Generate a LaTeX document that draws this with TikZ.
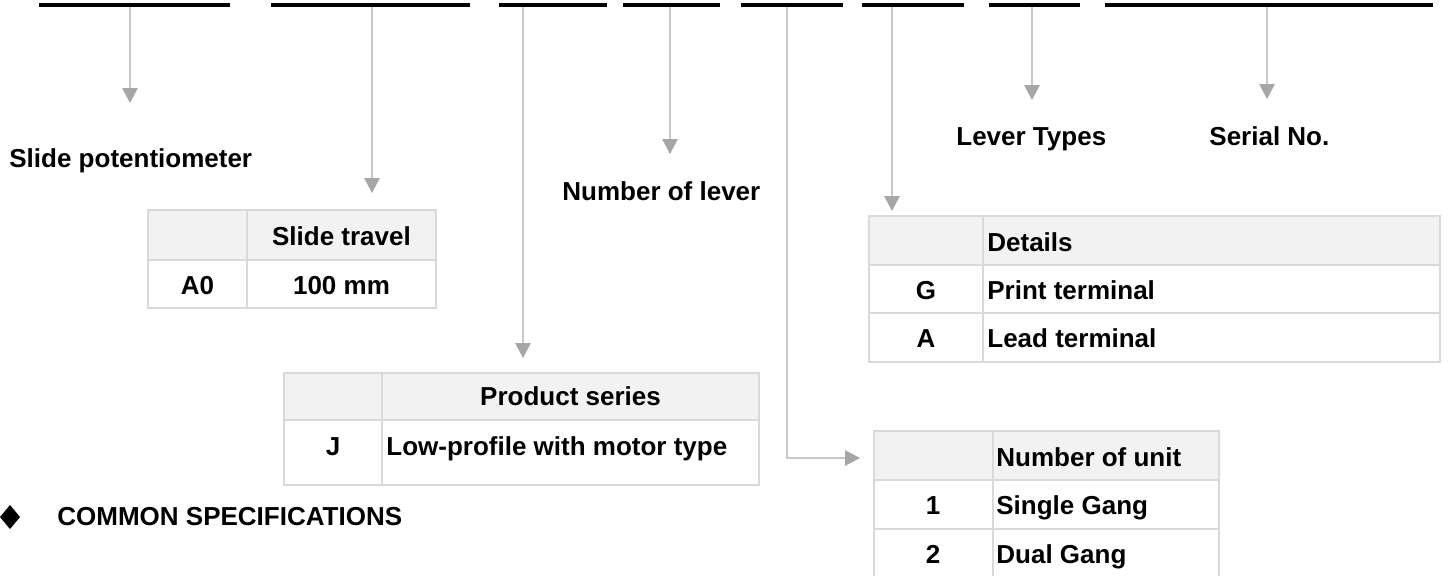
\documentclass[tikz,border=0pt]{standalone}
\usepackage{fontspec}
\setmainfont{Liberation Sans}
\usetikzlibrary{arrows.meta}
\definecolor{linegray}{HTML}{C8C8C8}
\definecolor{tipgray}{HTML}{A6A6A6}
\definecolor{gridgray}{HTML}{D9D9D9}
\definecolor{headgray}{HTML}{F2F2F2}
\tikzset{
    bar/.style={line width=2.2pt},
    arr/.style={draw=linegray,line width=0.75pt,-{Triangle[width=7.6pt,length=7.4pt,color=tipgray]}},
    lbl/.style={font=\bfseries\fontsize{13}{15}\selectfont,inner sep=0pt},
    head/.style={fill=headgray,draw=gridgray,line width=0.6pt},
    cell/.style={draw=gridgray,line width=0.6pt}
}
\begin{document}
\begin{tikzpicture}[x=0.5pt,y=-0.5pt]
    \useasboundingbox (0,0) rectangle (1448,575);
    % code segments
    \foreach \a/\b [count=\i] in {39/230,271/470,499/607,623/720,741/843,862/964,989/1080,1105/1433}
        \draw[bar] (\a,5) coordinate (b\i) -- (\b,5);
    \foreach \x [count=\i] in {130,372,523,670,787,892,1032,1267}
        \coordinate (s\i) at (\x,7);
    % labels
    \node[lbl,anchor=base west] (pot) at (9,167) {Slide potentiometer};
    \node[lbl,anchor=base west] (lever) at (562,200) {Number of lever};
    \node[lbl,anchor=base west] (ltype) at (956,145) {Lever Types};
    \node[lbl,anchor=base west] (serial) at (1209,145) {Serial No.};
    % slide travel table
    \draw[head] (148,210) rectangle (247,260) (247,210) rectangle (436,260);
    \draw[cell] (148,260) rectangle (247,308) (247,260) rectangle (436,308);
    \node[lbl,anchor=base] (travel) at (341.5,245) {Slide travel};
    \node[lbl,anchor=base] (a0) at (197.5,294) {A0};
    \node[lbl,anchor=base] (mm) at (341.5,294) {100 mm};
    % product series table
    \draw[head] (284,373) rectangle (382,420) (382,373) rectangle (759,420);
    \draw[cell] (284,420) rectangle (382,485) (382,420) rectangle (759,485);
    \node[lbl,anchor=base] (series) at (570.5,405) {Product series};
    \node[lbl,anchor=base] (j) at (333,455) {J};
    \node[lbl,anchor=base west] (lowp) at (386,455) {Low-profile with motor type};
    % details table
    \draw[head] (869,216) rectangle (983,265) (983,216) rectangle (1440,265);
    \draw[cell] (869,265) rectangle (983,313) (983,265) rectangle (1440,313);
    \draw[cell] (869,313) rectangle (983,362) (983,313) rectangle (1440,362);
    \node[lbl,anchor=base west] (details) at (987,251) {Details};
    \node[lbl,anchor=base] (g) at (926,299) {G};
    \node[lbl,anchor=base west] (print) at (987,299) {Print terminal};
    \node[lbl,anchor=base] (a) at (926,347) {A};
    \node[lbl,anchor=base west] (lead) at (987,347) {Lead terminal};
    % number of unit table
    \draw[head] (874,431) rectangle (993,480) (993,431) rectangle (1219,480);
    \draw[cell] (874,480) rectangle (993,529) (993,480) rectangle (1219,529);
    \draw[cell] (874,529) rectangle (993,578) (993,529) rectangle (1219,578);
    \node[lbl,anchor=base west] (unit) at (996,466) {Number of unit};
    \node[lbl,anchor=base] (one) at (933,514) {1};
    \node[lbl,anchor=base west] (single) at (996,514) {Single Gang};
    \node[lbl,anchor=base] (two) at (933,563) {2};
    \node[lbl,anchor=base west] (dual) at (996,563) {Dual Gang};
    % arrows
    \coordinate (t1) at (130,103);
    \coordinate (t2) at (372,193);
    \coordinate (t3) at (523,358);
    \coordinate (t4) at (670,154);
    \coordinate (t5) at (860,458);
    \coordinate (t6) at (892,211);
    \coordinate (t7) at (1032,100);
    \coordinate (t8) at (1267,99);
    \draw[arr] (s1) -- (t1);
    \draw[arr] (s2) -- (t2);
    \draw[arr] (s3) -- (t3);
    \draw[arr] (s4) -- (t4);
    \draw[arr] (s5) |- (t5);
    \draw[arr] (s6) -- (t6);
    \draw[arr] (s7) -- (t7);
    \draw[arr] (s8) -- (t8);
    % common specifications
    \fill (10,505) -- (20,517) -- (10,529) -- (0,517) -- cycle;
    \node[lbl,anchor=base west] (common) at (57,525) {COMMON SPECIFICATIONS};
\end{tikzpicture}
\end{document}
